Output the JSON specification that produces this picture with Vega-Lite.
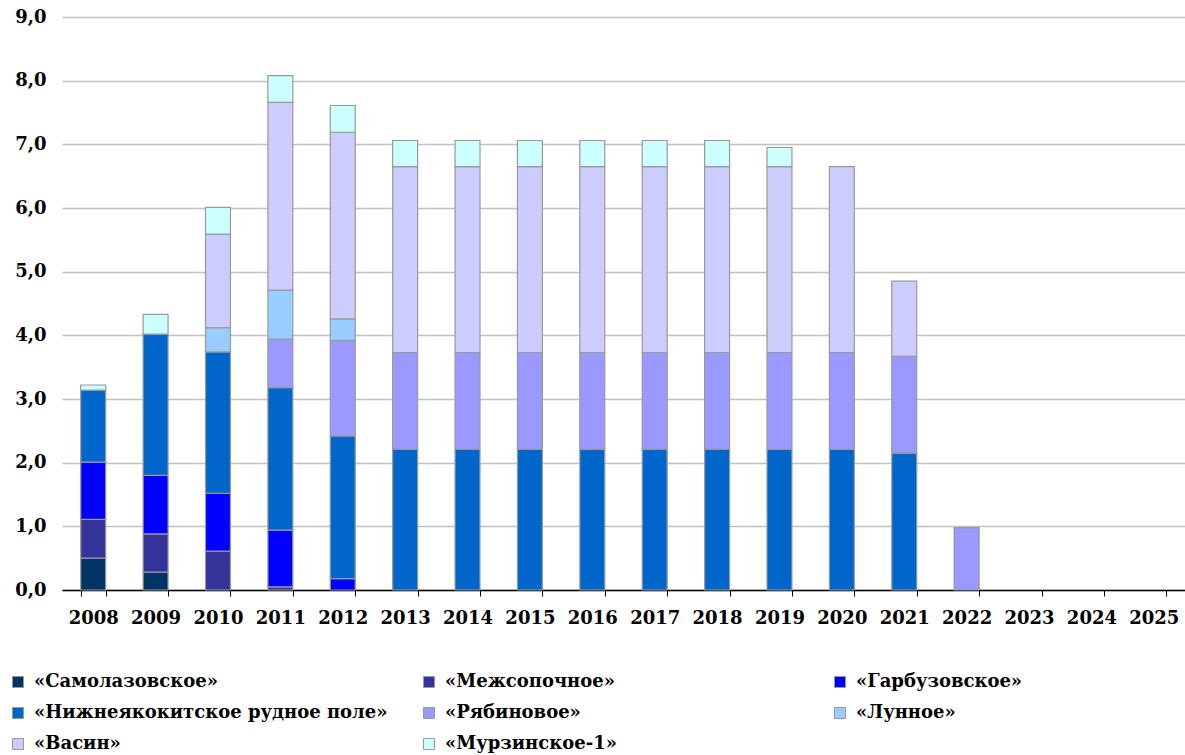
{
  "$schema": "https://vega.github.io/schema/vega-lite/v6.json",
  "autosize": "none",
  "width": 1123,
  "height": 573,
  "padding": {"left": 62, "top": 17, "right": 0, "bottom": 165},
  "background": "white",
  "config": {
    "font": "DejaVu Serif",
    "view": {"stroke": null}
  },
  "data": {
    "values": [
      {"year": "2008", "series": "«Самолазовское»", "value": 0.5},
      {"year": "2008", "series": "«Межсопочное»", "value": 0.61},
      {"year": "2008", "series": "«Гарбузовское»", "value": 0.9},
      {"year": "2008", "series": "«Нижнеякокитское рудное поле»", "value": 1.13},
      {"year": "2008", "series": "«Мурзинское-1»", "value": 0.08},
      {"year": "2009", "series": "«Самолазовское»", "value": 0.28},
      {"year": "2009", "series": "«Межсопочное»", "value": 0.6},
      {"year": "2009", "series": "«Гарбузовское»", "value": 0.92},
      {"year": "2009", "series": "«Нижнеякокитское рудное поле»", "value": 2.22},
      {"year": "2009", "series": "«Мурзинское-1»", "value": 0.31},
      {"year": "2010", "series": "«Межсопочное»", "value": 0.61},
      {"year": "2010", "series": "«Гарбузовское»", "value": 0.91},
      {"year": "2010", "series": "«Нижнеякокитское рудное поле»", "value": 2.22},
      {"year": "2010", "series": "«Лунное»", "value": 0.38},
      {"year": "2010", "series": "«Васин»", "value": 1.47},
      {"year": "2010", "series": "«Мурзинское-1»", "value": 0.42},
      {"year": "2011", "series": "«Межсопочное»", "value": 0.05},
      {"year": "2011", "series": "«Гарбузовское»", "value": 0.89},
      {"year": "2011", "series": "«Нижнеякокитское рудное поле»", "value": 2.24},
      {"year": "2011", "series": "«Рябиновое»", "value": 0.76},
      {"year": "2011", "series": "«Лунное»", "value": 0.77},
      {"year": "2011", "series": "«Васин»", "value": 2.95},
      {"year": "2011", "series": "«Мурзинское-1»", "value": 0.42},
      {"year": "2012", "series": "«Гарбузовское»", "value": 0.18},
      {"year": "2012", "series": "«Нижнеякокитское рудное поле»", "value": 2.24},
      {"year": "2012", "series": "«Рябиновое»", "value": 1.5},
      {"year": "2012", "series": "«Лунное»", "value": 0.34},
      {"year": "2012", "series": "«Васин»", "value": 2.93},
      {"year": "2012", "series": "«Мурзинское-1»", "value": 0.42},
      {"year": "2013", "series": "«Нижнеякокитское рудное поле»", "value": 2.21},
      {"year": "2013", "series": "«Рябиновое»", "value": 1.52},
      {"year": "2013", "series": "«Васин»", "value": 2.92},
      {"year": "2013", "series": "«Мурзинское-1»", "value": 0.41},
      {"year": "2014", "series": "«Нижнеякокитское рудное поле»", "value": 2.21},
      {"year": "2014", "series": "«Рябиновое»", "value": 1.52},
      {"year": "2014", "series": "«Васин»", "value": 2.92},
      {"year": "2014", "series": "«Мурзинское-1»", "value": 0.41},
      {"year": "2015", "series": "«Нижнеякокитское рудное поле»", "value": 2.21},
      {"year": "2015", "series": "«Рябиновое»", "value": 1.52},
      {"year": "2015", "series": "«Васин»", "value": 2.92},
      {"year": "2015", "series": "«Мурзинское-1»", "value": 0.41},
      {"year": "2016", "series": "«Нижнеякокитское рудное поле»", "value": 2.21},
      {"year": "2016", "series": "«Рябиновое»", "value": 1.52},
      {"year": "2016", "series": "«Васин»", "value": 2.92},
      {"year": "2016", "series": "«Мурзинское-1»", "value": 0.41},
      {"year": "2017", "series": "«Нижнеякокитское рудное поле»", "value": 2.21},
      {"year": "2017", "series": "«Рябиновое»", "value": 1.52},
      {"year": "2017", "series": "«Васин»", "value": 2.92},
      {"year": "2017", "series": "«Мурзинское-1»", "value": 0.41},
      {"year": "2018", "series": "«Нижнеякокитское рудное поле»", "value": 2.21},
      {"year": "2018", "series": "«Рябиновое»", "value": 1.52},
      {"year": "2018", "series": "«Васин»", "value": 2.92},
      {"year": "2018", "series": "«Мурзинское-1»", "value": 0.41},
      {"year": "2019", "series": "«Нижнеякокитское рудное поле»", "value": 2.21},
      {"year": "2019", "series": "«Рябиновое»", "value": 1.52},
      {"year": "2019", "series": "«Васин»", "value": 2.92},
      {"year": "2019", "series": "«Мурзинское-1»", "value": 0.3},
      {"year": "2020", "series": "«Нижнеякокитское рудное поле»", "value": 2.21},
      {"year": "2020", "series": "«Рябиновое»", "value": 1.52},
      {"year": "2020", "series": "«Васин»", "value": 2.92},
      {"year": "2021", "series": "«Нижнеякокитское рудное поле»", "value": 2.15},
      {"year": "2021", "series": "«Рябиновое»", "value": 1.52},
      {"year": "2021", "series": "«Васин»", "value": 1.18},
      {"year": "2022", "series": "«Рябиновое»", "value": 0.98}
    ]
  },
  "transform": [
    {"calculate": "indexof(['«Самолазовское»','«Межсопочное»','«Гарбузовское»','«Нижнеякокитское рудное поле»','«Рябиновое»','«Лунное»','«Васин»','«Мурзинское-1»'], datum.series)", "as": "stackOrder"}
  ],
  "mark": {"type": "bar", "stroke": "#999999", "strokeWidth": 1.2},
  "encoding": {
    "x": {
      "field": "year",
      "type": "ordinal",
      "scale": {
        "domain": ["2008","2009","2010","2011","2012","2013","2014","2015","2016","2017","2018","2019","2020","2021","2022","2023","2024","2025"],
        "paddingInner": 0.6,
        "paddingOuter": 0.3
      },
      "axis": {
        "title": null,
        "labelAngle": 0,
        "labelFont": "DejaVu Serif",
        "labelFontWeight": "bold",
        "labelFontSize": 18,
        "labelColor": "#000000",
        "labelPadding": 13,
        "tickBand": "extent",
        "tickSize": 6,
        "tickColor": "#000000",
        "domainColor": "#000000",
        "domainWidth": 1.5,
        "grid": false
      }
    },
    "y": {
      "field": "value",
      "type": "quantitative",
      "stack": "zero",
      "scale": {"domain": [0, 9], "nice": false},
      "axis": {
        "title": null,
        "values": [0,1,2,3,4,5,6,7,8,9],
        "labelExpr": "replace(format(datum.value, '.1f'), '.', ',')",
        "labelFont": "DejaVu Serif",
        "labelFontWeight": "bold",
        "labelFontSize": 18,
        "labelColor": "#000000",
        "labelPadding": 16,
        "ticks": false,
        "domain": false,
        "grid": true,
        "gridColor": "#c0c0c0",
        "gridWidth": 1.5
      }
    },
    "color": {
      "field": "series",
      "type": "nominal",
      "scale": {
        "domain": ["«Самолазовское»","«Межсопочное»","«Гарбузовское»","«Нижнеякокитское рудное поле»","«Рябиновое»","«Лунное»","«Васин»","«Мурзинское-1»"],
        "range": ["#003366","#333399","#0000ff","#0066cc","#9999ff","#99ccff","#ccccff","#ccffff"]
      },
      "legend": {
        "title": null,
        "orient": "none",
        "legendX": -53,
        "legendY": 656,
        "direction": "horizontal",
        "columns": 3,
        "gridAlign": "all",
        "columnPadding": 32,
        "rowPadding": 13,
        "symbolType": "square",
        "symbolSize": 121,
        "symbolStrokeColor": "#999999",
        "symbolStrokeWidth": 1,
        "labelFont": "DejaVu Serif",
        "labelFontWeight": "bold",
        "labelFontSize": 18,
        "labelColor": "#000000",
        "labelLimit": 500,
        "labelOffset": 7
      }
    },
    "order": {"field": "stackOrder", "type": "quantitative", "sort": "ascending"}
  }
}
